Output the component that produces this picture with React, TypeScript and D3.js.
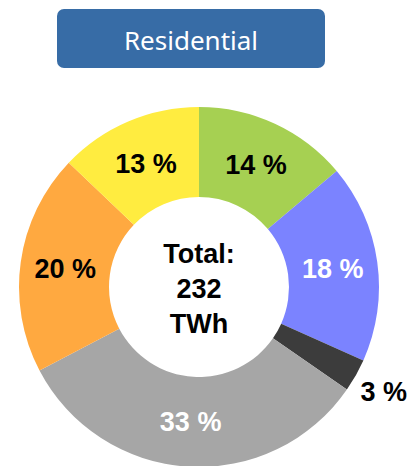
import React from 'react';
import * as d3 from 'd3';

// share of residential consumption, clockwise from 12 o'clock
const labels = ['14 %', '18 %', '3 %', '33 %', '20 %', '13 %'];
const values = [14, 18, 3, 33, 20, 13];
const colors = ['#a6d052', '#7b83ff', '#3c3c3c', '#a6a6a6', '#ffa940', '#ffec40'];
const labelColors = ['#000', '#fff', '#000', '#fff', '#000', '#000'];
const centerLines = ['Total:', '232', 'TWh'];
const title = 'Residential';

const App = () => {
  const width = 411;
  const height = 466;
  const cx = 199;
  const cy = 287;
  const outer = 180;
  const inner = 90;

  const pie = d3.pie<number>().sort(null).value((d) => d);
  const arcs = pie(values);
  const arc = d3.arc<d3.PieArcDatum<number>>().innerRadius(inner).outerRadius(outer);
  const outsideArc = d3
    .arc<d3.PieArcDatum<number>>()
    .innerRadius(212)
    .outerRadius(212);

  return (
    <svg
      width={width}
      height={height}
      style={{ position: 'absolute', left: 0, top: 0, background: '#fff' }}
    >
      <rect x={57} y={9} width={268} height={59} rx={7} fill='#376ca6' />
      <text
        x={191}
        y={50}
        textAnchor='middle'
        fill='#fff'
        fontFamily='Noto Sans, Open Sans, sans-serif'
        fontSize={26}
      >
        {title}
      </text>

      <g transform={`translate(${cx}, ${cy})`}>
        {arcs.map((d, i) => (
          <path key={i} d={arc(d) || ''} fill={colors[i]} />
        ))}
        {arcs.map((d, i) => {
          // the small slice gets its label outside the ring
          const [x, y] = values[i] < 5 ? outsideArc.centroid(d) : arc.centroid(d);
          return (
            <text
              key={i}
              x={x}
              y={y}
              dy='0.36em'
              textAnchor='middle'
              fill={labelColors[i]}
              fontFamily='Liberation Sans, Arial, sans-serif'
              fontWeight='bold'
              fontSize={27}
            >
              {labels[i]}
            </text>
          );
        })}
        {centerLines.map((t, i) => (
          <text
            key={t}
            x={0}
            y={(i - 1) * 35 + 1}
            dy='0.36em'
            textAnchor='middle'
            fill='#000'
            fontFamily='Liberation Sans, Arial, sans-serif'
            fontWeight='bold'
            fontSize={27}
          >
            {t}
          </text>
        ))}
      </g>
    </svg>
  );
};

export default App;
